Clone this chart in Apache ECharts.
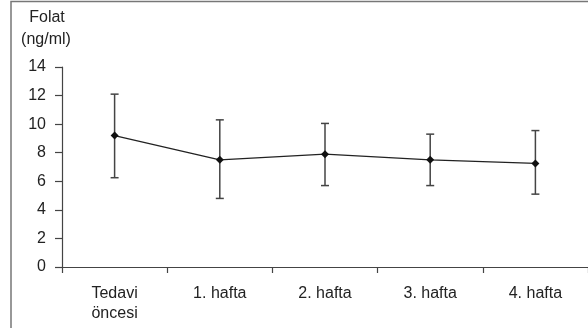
<!DOCTYPE html>
<html><head><meta charset="utf-8">
<script src="https://cdn.jsdelivr.net/npm/echarts@6/dist/echarts.min.js"></script>
<style>html,body{margin:0;padding:0;background:#fff;}#c{width:588px;height:328px;}</style>
</head><body><div id="c"></div>
<script>
var categories = ['Tedavi\nöncesi', '1. hafta', '2. hafta', '3. hafta', '4. hafta'];
var means = [9.2, 7.5, 7.9, 7.5, 7.25];
var lowers = [6.25, 4.8, 5.7, 5.7, 5.1];
var uppers = [12.1, 10.3, 10.05, 9.3, 9.55];
var yTicks = [0, 2, 4, 6, 8, 10, 12, 14];

var chart = echarts.init(document.getElementById('c'));
var font = 'Liberation Sans, Arial, Helvetica, sans-serif';
var errData = categories.map(function (c, i) { return [i, lowers[i], uppers[i]]; });
chart.setOption({
  animation: false,
  grid: { left: 62, right: 0, top: 67, bottom: 61 },
  graphic: [
    { type: 'rect', shape: { x: 11, y: 1.5, width: 600, height: 400 }, style: { fill: 'none', stroke: '#777', lineWidth: 1.5 }, z: -1 },
    { type: 'text', style: { text: 'Folat', font: '16px ' + font, fill: '#222', textAlign: 'center', textVerticalAlign: 'middle', x: 47, y: 18 } },
    { type: 'text', style: { text: '(ng/ml)', font: '16px ' + font, fill: '#222', textAlign: 'center', textVerticalAlign: 'middle', x: 46, y: 40 } }
  ],
  xAxis: {
    type: 'category', data: categories, boundaryGap: true,
    axisLine: { lineStyle: { color: '#444', width: 1.2 } },
    axisTick: { show: true, length: 6, inside: false, lineStyle: { color: '#444', width: 1.2 } },
    axisLabel: { color: '#222', fontSize: 16, fontFamily: font, margin: 17, lineHeight: 20 }
  },
  yAxis: {
    type: 'value', min: 0, max: 14, interval: 2,
    splitLine: { show: false },
    axisLine: { show: true, lineStyle: { color: '#444', width: 1.2 } },
    axisTick: { show: true, length: 7, lineStyle: { color: '#444', width: 1.2 } },
    axisLabel: { color: '#222', fontSize: 16, fontFamily: font, margin: 16,
      formatter: function (v) { return yTicks.indexOf(v) >= 0 ? String(v) : ''; } }
  },
  series: [
    {
      type: 'custom',
      data: errData,
      renderItem: function (params, api) {
        var x = api.value(0);
        var lo = api.coord([x, api.value(1)]);
        var hi = api.coord([x, api.value(2)]);
        var w = 4;
        var st = { stroke: '#444', lineWidth: 1.5 };
        return { type: 'group', children: [
          { type: 'line', shape: { x1: lo[0], y1: lo[1], x2: hi[0], y2: hi[1] }, style: st },
          { type: 'line', shape: { x1: lo[0] - w, y1: lo[1], x2: lo[0] + w, y2: lo[1] }, style: st },
          { type: 'line', shape: { x1: hi[0] - w, y1: hi[1], x2: hi[0] + w, y2: hi[1] }, style: st }
        ] };
      },
      z: 2
    },
    {
      type: 'line', data: means,
      symbol: 'diamond', symbolSize: 8,
      itemStyle: { color: '#111' },
      lineStyle: { color: '#222', width: 1.3 },
      z: 3
    }
  ]
});
</script></body></html>
